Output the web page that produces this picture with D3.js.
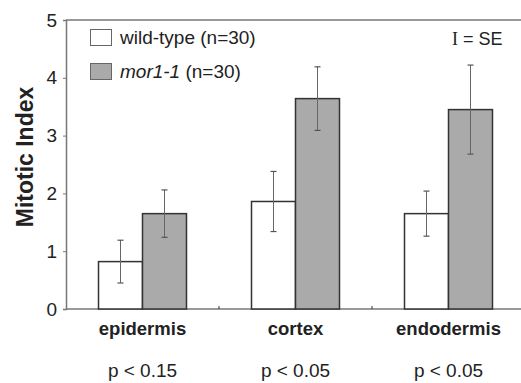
<!DOCTYPE html>
<html>
<head>
<meta charset="utf-8">
<script src="https://cdn.jsdelivr.net/npm/d3@7"></script>
<style>
  body { margin: 0; background: #fff; }
  svg { font-family: Arial, 'Liberation Sans', sans-serif; }
</style>
</head>
<body>
<div id="chart"></div>
<script>
const tissues = ['epidermis', 'cortex', 'endodermis'];
const pValues = ['p < 0.15', 'p < 0.05', 'p < 0.05'];
const wildMean = [0.82, 1.86, 1.65];
const wildSE = [0.37, 0.52, 0.39];
const mutMean = [1.65, 3.64, 3.45];
const mutSE = [0.41, 0.55, 0.77];
const yTicks = [0, 1, 2, 3, 4, 5];

const svgWidth = 521;
const svgHeight = 383;
const margin = { top: 20, right: -4, bottom: 74, left: 66 };
const chartWidth = svgWidth - margin.left - margin.right;
const chartHeight = svgHeight - margin.top - margin.bottom;

const svg = d3.select('#chart').append('svg')
  .attr('width', svgWidth)
  .attr('height', svgHeight);

const g = svg.append('g')
  .attr('transform', `translate(${margin.left}, ${margin.top})`);

const x = d3.scaleBand().domain(tissues).range([0, chartWidth]).padding(0);
const sub = d3.scaleBand().domain(['wild', 'mor1']).range([0, 88]);
const y = d3.scaleLinear().domain([0, 5]).range([chartHeight, 0]);

const axisColor = '#777';

// frame top line
g.append('line')
  .attr('x1', 0).attr('x2', chartWidth)
  .attr('y1', 0).attr('y2', 0)
  .attr('stroke', axisColor).attr('stroke-width', 1.5);

// y axis
const yAxis = g.append('g')
  .call(d3.axisLeft(y).tickValues(yTicks).tickSize(3).tickPadding(6).tickFormat(d3.format('d')));
yAxis.select('.domain').attr('stroke', axisColor).attr('stroke-width', 1.5);
yAxis.selectAll('.tick line').attr('stroke', axisColor);
yAxis.selectAll('.tick text').attr('font-size', 19).attr('fill', '#222');

// x axis baseline with small separator ticks between groups
g.append('line')
  .attr('x1', 0).attr('x2', chartWidth)
  .attr('y1', chartHeight).attr('y2', chartHeight)
  .attr('stroke', axisColor).attr('stroke-width', 1.5);
tissues.slice(1).forEach((t) => {
  g.append('line')
    .attr('x1', x(t)).attr('x2', x(t))
    .attr('y1', chartHeight).attr('y2', chartHeight - 3)
    .attr('stroke', '#333');
});

const series = [
  { key: 'wild', mean: wildMean, se: wildSE, fill: '#fff' },
  { key: 'mor1', mean: mutMean, se: mutSE, fill: '#aaa' },
];

series.forEach((s) => {
  tissues.forEach((t, i) => {
    const x0 = x(t) + (x.bandwidth() - 88) / 2 + sub(s.key);
    g.append('rect')
      .attr('x', x0)
      .attr('y', y(s.mean[i]))
      .attr('width', sub.bandwidth())
      .attr('height', chartHeight - y(s.mean[i]))
      .attr('fill', s.fill)
      .attr('stroke', '#333')
      .attr('stroke-width', 1.5);
  });
});

// error bars
series.forEach((s) => {
  tissues.forEach((t, i) => {
    const cx = x(t) + (x.bandwidth() - 88) / 2 + sub(s.key) + sub.bandwidth() / 2;
    const top = y(s.mean[i] + s.se[i]);
    const bot = y(s.mean[i] - s.se[i]);
    g.append('line').attr('x1', cx).attr('x2', cx).attr('y1', top).attr('y2', bot)
      .attr('stroke', '#666').attr('stroke-width', 1);
    [top, bot].forEach((yy) => {
      g.append('line').attr('x1', cx - 3).attr('x2', cx + 3).attr('y1', yy).attr('y2', yy)
        .attr('stroke', '#555').attr('stroke-width', 1.2);
    });
  });
});

// category labels
g.selectAll('.cat')
  .data(tissues)
  .enter()
  .append('text')
  .attr('x', (d) => x(d) + x.bandwidth() / 2)
  .attr('y', chartHeight + 26)
  .attr('text-anchor', 'middle')
  .attr('font-size', 18.5)
  .attr('font-weight', 'bold')
  .attr('fill', '#222')
  .text((d) => d);

g.selectAll('.pval')
  .data(tissues)
  .enter()
  .append('text')
  .attr('x', (d) => x(d) + x.bandwidth() / 2)
  .attr('y', chartHeight + 68)
  .attr('text-anchor', 'middle')
  .attr('font-size', 19)
  .attr('fill', '#222')
  .text((d, i) => pValues[i]);

// y label
svg.append('text')
  .attr('transform', `translate(33, 157) rotate(-90)`)
  .attr('text-anchor', 'middle')
  .attr('font-size', 23)
  .attr('font-weight', 'bold')
  .attr('fill', '#222')
  .text('Mitotic Index');

// legend
const legend = svg.append('g');
legend.append('rect').attr('x', 90.5).attr('y', 29.5).attr('width', 21).attr('height', 16)
  .attr('fill', '#fff').attr('stroke', '#666');
legend.append('text').attr('x', 120).attr('y', 44).attr('font-size', 19).attr('fill', '#222')
  .text('wild-type (n=30)');
legend.append('rect').attr('x', 90.5).attr('y', 63.5).attr('width', 21).attr('height', 16)
  .attr('fill', '#aaa').attr('stroke', '#666');
const mt = legend.append('text').attr('x', 120).attr('y', 78).attr('font-size', 19).attr('fill', '#222');
mt.append('tspan').attr('font-style', 'italic').text('mor1-1');
mt.append('tspan').text(' (n=30)');

const se = svg.append('text').attr('x', 452).attr('y', 45).attr('font-size', 18).attr('fill', '#222');
se.append('tspan').attr('font-family', "'Liberation Serif', serif").text('I');
se.append('tspan').text(' = SE');
</script>
</body>
</html>
